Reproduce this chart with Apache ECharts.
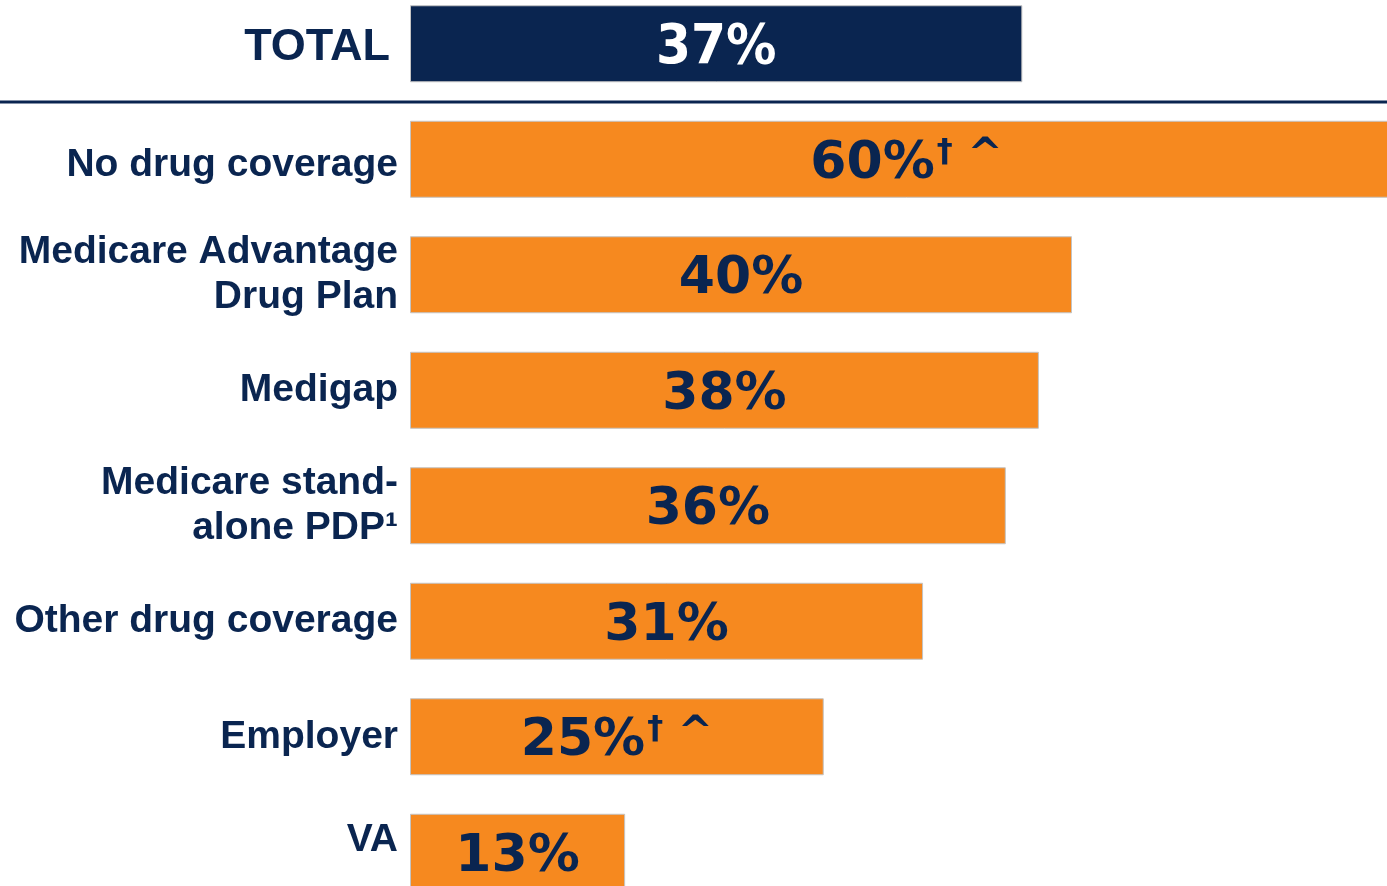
<!DOCTYPE html>
<html>
<head>
<meta charset="utf-8">
<script src="https://cdn.jsdelivr.net/npm/echarts@6/dist/echarts.min.js"></script>
<style>
    html, body { margin: 0; padding: 0; background: #fff; overflow: hidden; }
    /* 图表比窗口略大，顶部和右侧被裁掉，与原图一致 */
    #chart { position: absolute; left: 0; top: -14px; width: 1403px; height: 924px; }
</style>
</head>
<body>
<div id="chart"></div>
<script>
// 数据
var categories = ['TOTAL', 'No drug coverage', 'Medicare Advantage\nDrug Plan', 'Medigap',
    'Medicare stand-\nalone PDP\u00b9', 'Other drug coverage', 'Employer', 'VA'];
var values = [37, 60, 40, 38, 36, 31, 25, 13];
var daggers = ['', '\u2020', '', '', '', '', '\u2020', ''];
var carets = ['', '^', '', '', '', '', '^', ''];

var NAVY = '#0a2550';
var ORANGE = '#f6891f';
var VALUE_FONT = '"DejaVu Sans", Verdana, sans-serif';
var CAT_FONT = '"Liberation Sans", Arial, sans-serif';

var myChart = echarts.init(document.getElementById('chart'));

// 分类标签（个别标签微调位置）
var yData = categories.map(function (name, i) {
    var item = { value: name, textStyle: {} };
    if (i === 1) item.textStyle.padding = [12, 0, 0, 0];
    if (i === 7) item.textStyle.padding = [0, 0, 24, 0];
    return item;
});

var barData = values.map(function (v, i) {
    return {
        value: v,
        itemStyle: { color: i === 0 ? NAVY : ORANGE },
        label: i === 0 ? {
            color: '#fff',
            fontFamily: '"DejaVu Sans Condensed", "DejaVu Sans", sans-serif',
            fontSize: 56,
            fontWeight: 'bold',
            formatter: '{w|{c}%}'
        } : {}
    };
});

var option = {
    animation: false,
    grid: { left: 410, right: 0, top: 0, bottom: 0, containLabel: false },
    xAxis: {
        type: 'value', min: 0, max: 60,
        show: false
    },
    yAxis: {
        type: 'category',
        inverse: true,
        data: yData,
        axisLine: { show: false },
        axisTick: { show: false },
        axisLabel: {
            margin: 12,
            color: NAVY,
            fontFamily: CAT_FONT,
            fontWeight: 'bold',
            fontSize: 39,
            lineHeight: 45,
            align: 'right',
            formatter: function (v) {
                if (v === 'TOTAL') return '{t|TOTAL}';
                return v;
            },
            rich: {
                t: {
                    fontSize: 45,
                    fontWeight: 'bold',
                    color: NAVY,
                    fontFamily: CAT_FONT,
                    padding: [8, 8, 0, 0]
                }
            }
        }
    },
    series: [{
        type: 'bar',
        barWidth: 77,
        data: barData,
        itemStyle: { borderColor: '#c4c4c4', borderWidth: 1 },
        label: {
            show: true,
            position: 'inside',
            offset: [0, 5],
            color: NAVY,
            fontFamily: VALUE_FONT,
            fontWeight: 'bold',
            fontSize: 52,
            formatter: function (p) {
                var i = p.dataIndex;
                var s = '{v|' + p.value + '%}';
                if (daggers[i]) s += '{d|' + daggers[i] + '}';
                if (carets[i]) s += '{c| ' + carets[i] + '}';
                return s;
            },
            rich: {
                v: { fontSize: 52, fontWeight: 'bold', fontFamily: VALUE_FONT },
                w: { fontSize: 56, fontWeight: 'bold', color: '#fff',
                     fontFamily: '"DejaVu Sans Condensed", "DejaVu Sans", sans-serif' },
                d: { fontSize: 32, fontWeight: 'bold', fontFamily: VALUE_FONT,
                     verticalAlign: 'top', padding: [0, 0, 22, 2] },
                c: { fontSize: 42, fontWeight: 'bold', fontFamily: VALUE_FONT,
                     verticalAlign: 'top', padding: [0, 0, 14, 0] }
            }
        }
    }]
};

myChart.setOption(option);

// TOTAL 与其他分组之间的分隔线
var y0 = myChart.convertToPixel({ yAxisIndex: 0 }, categories[0]);
var y1 = myChart.convertToPixel({ yAxisIndex: 0 }, categories[1]);
var sepY = Math.round((y0 + y1) / 2);
myChart.setOption({
    graphic: [{
        type: 'line',
        shape: { x1: 0, y1: sepY, x2: 1403, y2: sepY },
        style: { stroke: NAVY, lineWidth: 3 }
    }]
});
</script>
</body>
</html>
